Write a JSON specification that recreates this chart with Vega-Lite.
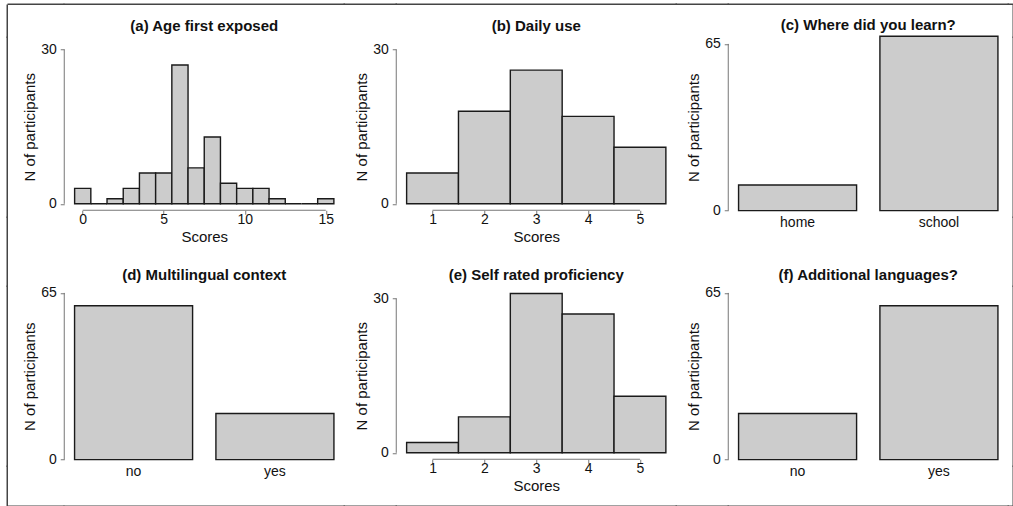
{
  "$schema": "https://vega.github.io/schema/vega-lite/v6.json",
  "padding": {"left": 6.25, "top": 3.25, "right": 0, "bottom": 0},
  "background": "white",
  "datasets": {
    "age": [
      {"bin_start": -0.5, "bin_end": 0.5, "n": 3},
      {"bin_start": 0.5, "bin_end": 1.5, "n": 0},
      {"bin_start": 1.5, "bin_end": 2.5, "n": 1},
      {"bin_start": 2.5, "bin_end": 3.5, "n": 3},
      {"bin_start": 3.5, "bin_end": 4.5, "n": 6},
      {"bin_start": 4.5, "bin_end": 5.5, "n": 6},
      {"bin_start": 5.5, "bin_end": 6.5, "n": 27},
      {"bin_start": 6.5, "bin_end": 7.5, "n": 7},
      {"bin_start": 7.5, "bin_end": 8.5, "n": 13},
      {"bin_start": 8.5, "bin_end": 9.5, "n": 4},
      {"bin_start": 9.5, "bin_end": 10.5, "n": 3},
      {"bin_start": 10.5, "bin_end": 11.5, "n": 3},
      {"bin_start": 11.5, "bin_end": 12.5, "n": 1},
      {"bin_start": 12.5, "bin_end": 13.5, "n": 0},
      {"bin_start": 13.5, "bin_end": 14.5, "n": 0},
      {"bin_start": 14.5, "bin_end": 15.5, "n": 1}
    ],
    "daily": [
      {"bin_start": 0.5, "bin_end": 1.5, "n": 6},
      {"bin_start": 1.5, "bin_end": 2.5, "n": 18},
      {"bin_start": 2.5, "bin_end": 3.5, "n": 26},
      {"bin_start": 3.5, "bin_end": 4.5, "n": 17},
      {"bin_start": 4.5, "bin_end": 5.5, "n": 11}
    ],
    "prof": [
      {"bin_start": 0.5, "bin_end": 1.5, "n": 2},
      {"bin_start": 1.5, "bin_end": 2.5, "n": 7},
      {"bin_start": 2.5, "bin_end": 3.5, "n": 31},
      {"bin_start": 3.5, "bin_end": 4.5, "n": 27},
      {"bin_start": 4.5, "bin_end": 5.5, "n": 11}
    ],
    "learn": [{"answer": "home", "n": 10}, {"answer": "school", "n": 68}],
    "multi": [{"answer": "no", "n": 60}, {"answer": "yes", "n": 18}],
    "addl": [{"answer": "no", "n": 18}, {"answer": "yes", "n": 60}],
    "one": [{"k": 1}],
    "none": []
  },
  "config": {
    "font": "Liberation Sans",
    "view": {"stroke": null},
    "title": {"fontSize": 15, "fontWeight": "bold", "color": "#111111", "offset": 3, "baseline": "alphabetic", "frame": "group", "anchor": "middle"},
    "axis": {"grid": false, "domain": false, "tickColor": "#777777", "tickSize": 4, "labelFontSize": 14, "labelColor": "#111111", "titleFontSize": 15, "titleFontWeight": "normal", "titleColor": "#111111", "labelFlush": false, "labelOverlap": false},
    "axisY": {"labelPadding": 4, "titlePadding": 3},
    "axisX": {"labelPadding": -2, "titlePadding": 3}
  },
  "columns": 9,
  "bounds": "flush",
  "align": "each",
  "spacing": 0,
  "concat": [
    {"width": 0.001, "height": 0.001, "data": {"name": "none"}, "mark": "point", "encoding": {}},
    {"width": 55.5, "height": 0.001, "view": {"stroke": "#444444", "strokeWidth": 1.5}, "data": {"name": "none"}, "mark": "point", "encoding": {}},
    {"width": 280, "height": 0.001, "view": {"stroke": "#444444", "strokeWidth": 1.5}, "data": {"name": "none"}, "mark": "point", "encoding": {}},
    {"width": 52, "height": 0.001, "view": {"stroke": "#444444", "strokeWidth": 1.5}, "data": {"name": "none"}, "mark": "point", "encoding": {}},
    {"width": 280, "height": 0.001, "view": {"stroke": "#444444", "strokeWidth": 1.5}, "data": {"name": "none"}, "mark": "point", "encoding": {}},
    {"width": 52, "height": 0.001, "view": {"stroke": "#444444", "strokeWidth": 1.5}, "data": {"name": "none"}, "mark": "point", "encoding": {}},
    {"width": 280, "height": 0.001, "view": {"stroke": "#444444", "strokeWidth": 1.5}, "data": {"name": "none"}, "mark": "point", "encoding": {}},
    {"width": 4.5, "height": 0.001, "view": {"stroke": "#444444", "strokeWidth": 1.5}, "data": {"name": "none"}, "mark": "point", "encoding": {}},
    {"width": 0.001, "height": 0.001, "data": {"name": "none"}, "mark": "point", "encoding": {}},

    {"width": 0.001, "height": 32, "view": {"stroke": "#444444", "strokeWidth": 1.5}, "data": {"name": "none"}, "mark": "point", "encoding": {}},
    {"width": 0.001, "height": 0.001, "data": {"name": "none"}, "mark": "point", "encoding": {}},
    {"width": 0.001, "height": 0.001, "data": {"name": "none"}, "mark": "point", "encoding": {}},
    {"width": 0.001, "height": 0.001, "data": {"name": "none"}, "mark": "point", "encoding": {}},
    {"width": 0.001, "height": 0.001, "data": {"name": "none"}, "mark": "point", "encoding": {}},
    {"width": 0.001, "height": 0.001, "data": {"name": "none"}, "mark": "point", "encoding": {}},
    {"width": 0.001, "height": 0.001, "data": {"name": "none"}, "mark": "point", "encoding": {}},
    {"width": 0.001, "height": 0.001, "data": {"name": "none"}, "mark": "point", "encoding": {}},
    {"width": 0.001, "height": 32, "view": {"stroke": "#444444", "strokeWidth": 1.5}, "data": {"name": "none"}, "mark": "point", "encoding": {}},

    {"width": 0.001, "height": 180, "view": {"stroke": "#444444", "strokeWidth": 1.5}, "data": {"name": "none"}, "mark": "point", "encoding": {}},
    {"width": 0.001, "height": 0.001, "data": {"name": "none"}, "mark": "point", "encoding": {}},
    {
      "width": 280, "height": 173,
      "title": {"text": "(a) Age first exposed"},
      "layer": [
        {"data": {"name": "age"},
         "mark": {"type": "rect", "fill": "#cccccc", "stroke": "#1a1a1a", "strokeWidth": 1.4},
         "encoding": {
           "x": {"field": "bin_start", "type": "quantitative", "scale": {"domain": [-1.14, 16.14], "nice": false, "zero": false}, "axis": {"values": [0, 5, 10, 15], "title": "Scores"}},
           "x2": {"field": "bin_end"},
           "y": {"field": "n", "type": "quantitative", "scale": {"domain": [-1.25, 32.4], "nice": false, "zero": false}, "axis": {"values": [0, 30], "title": "N of participants", "titleY": 89.5}},
           "y2": {"datum": 0}
         }},
        {"data": {"name": "one"}, "mark": {"type": "rule", "color": "#777777", "strokeWidth": 1},
         "encoding": {"x": {"datum": 0}, "x2": {"datum": 15}, "y": {"datum": -1.25}}},
        {"data": {"name": "one"}, "mark": {"type": "rule", "color": "#777777", "strokeWidth": 1},
         "encoding": {"x": {"datum": -1.14}, "y": {"datum": 0}, "y2": {"datum": 30}}}
      ]
    },
    {"width": 0.001, "height": 0.001, "data": {"name": "none"}, "mark": "point", "encoding": {}},
    {
      "width": 280, "height": 173,
      "title": {"text": "(b) Daily use"},
      "layer": [
        {"data": {"name": "daily"},
         "mark": {"type": "rect", "fill": "#cccccc", "stroke": "#1a1a1a", "strokeWidth": 1.4},
         "encoding": {
           "x": {"field": "bin_start", "type": "quantitative", "scale": {"domain": [0.3, 5.7], "nice": false, "zero": false}, "axis": {"values": [1, 2, 3, 4, 5], "title": "Scores"}},
           "x2": {"field": "bin_end"},
           "y": {"field": "n", "type": "quantitative", "scale": {"domain": [-1.25, 32.4], "nice": false, "zero": false}, "axis": {"values": [0, 30], "title": "N of participants", "titleY": 89.5}},
           "y2": {"datum": 0}
         }},
        {"data": {"name": "one"}, "mark": {"type": "rule", "color": "#777777", "strokeWidth": 1},
         "encoding": {"x": {"datum": 1}, "x2": {"datum": 5}, "y": {"datum": -1.25}}},
        {"data": {"name": "one"}, "mark": {"type": "rule", "color": "#777777", "strokeWidth": 1},
         "encoding": {"x": {"datum": 0.3}, "y": {"datum": 0}, "y2": {"datum": 30}}}
      ]
    },
    {"width": 0.001, "height": 0.001, "data": {"name": "none"}, "mark": "point", "encoding": {}},
    {
      "width": 280, "height": 180,
      "title": {"text": "(c) Where did you learn?"},
      "resolve": {"scale": {"x": "independent"}},
      "layer": [
        {"data": {"name": "learn"},
         "mark": {"type": "bar", "fill": "#cccccc", "stroke": "#1a1a1a", "strokeWidth": 1.4},
         "encoding": {
           "x": {"field": "answer", "type": "nominal", "sort": null, "scale": {"paddingInner": 0.165, "paddingOuter": 0.073}, "axis": {"ticks": false, "tickSize": 0, "labelAngle": 0, "title": null, "labelBaseline": "alphabetic", "labelPadding": 9.7}},
           "y": {"field": "n", "type": "quantitative", "scale": {"domain": [-2.6, 67.6], "nice": false, "zero": false}, "axis": {"values": [0, 65], "title": "N of participants"}},
           "y2": {"datum": 0}
         }},
        {"data": {"name": "one"}, "mark": {"type": "rule", "color": "#777777", "strokeWidth": 1},
         "encoding": {"x": {"datum": 0, "type": "quantitative", "scale": {"domain": [0, 1]}, "axis": null}, "y": {"datum": 0}, "y2": {"datum": 65}}}
      ]
    },
    {"width": 0.001, "height": 0.001, "data": {"name": "none"}, "mark": "point", "encoding": {}},
    {"width": 0.001, "height": 180, "view": {"stroke": "#444444", "strokeWidth": 1.5}, "data": {"name": "none"}, "mark": "point", "encoding": {}},

    {"width": 0.001, "height": 69, "view": {"stroke": "#444444", "strokeWidth": 1.5}, "data": {"name": "none"}, "mark": "point", "encoding": {}},
    {"width": 0.001, "height": 0.001, "data": {"name": "none"}, "mark": "point", "encoding": {}},
    {"width": 0.001, "height": 0.001, "data": {"name": "none"}, "mark": "point", "encoding": {}},
    {"width": 0.001, "height": 0.001, "data": {"name": "none"}, "mark": "point", "encoding": {}},
    {"width": 0.001, "height": 0.001, "data": {"name": "none"}, "mark": "point", "encoding": {}},
    {"width": 0.001, "height": 0.001, "data": {"name": "none"}, "mark": "point", "encoding": {}},
    {"width": 0.001, "height": 0.001, "data": {"name": "none"}, "mark": "point", "encoding": {}},
    {"width": 0.001, "height": 0.001, "data": {"name": "none"}, "mark": "point", "encoding": {}},
    {"width": 0.001, "height": 69, "view": {"stroke": "#444444", "strokeWidth": 1.5}, "data": {"name": "none"}, "mark": "point", "encoding": {}},

    {"width": 0.001, "height": 180, "view": {"stroke": "#444444", "strokeWidth": 1.5}, "data": {"name": "none"}, "mark": "point", "encoding": {}},
    {"width": 0.001, "height": 0.001, "data": {"name": "none"}, "mark": "point", "encoding": {}},
    {
      "width": 280, "height": 180,
      "title": {"text": "(d) Multilingual context"},
      "resolve": {"scale": {"x": "independent"}},
      "layer": [
        {"data": {"name": "multi"},
         "mark": {"type": "bar", "fill": "#cccccc", "stroke": "#1a1a1a", "strokeWidth": 1.4},
         "encoding": {
           "x": {"field": "answer", "type": "nominal", "sort": null, "scale": {"paddingInner": 0.165, "paddingOuter": 0.073}, "axis": {"ticks": false, "tickSize": 0, "labelAngle": 0, "title": null, "labelBaseline": "alphabetic", "labelPadding": 9.7}},
           "y": {"field": "n", "type": "quantitative", "scale": {"domain": [-2.6, 67.6], "nice": false, "zero": false}, "axis": {"values": [0, 65], "title": "N of participants"}},
           "y2": {"datum": 0}
         }},
        {"data": {"name": "one"}, "mark": {"type": "rule", "color": "#777777", "strokeWidth": 1},
         "encoding": {"x": {"datum": 0, "type": "quantitative", "scale": {"domain": [0, 1]}, "axis": null}, "y": {"datum": 0}, "y2": {"datum": 65}}}
      ]
    },
    {"width": 0.001, "height": 0.001, "data": {"name": "none"}, "mark": "point", "encoding": {}},
    {
      "width": 280, "height": 173,
      "title": {"text": "(e) Self rated proficiency"},
      "layer": [
        {"data": {"name": "prof"},
         "mark": {"type": "rect", "fill": "#cccccc", "stroke": "#1a1a1a", "strokeWidth": 1.4},
         "encoding": {
           "x": {"field": "bin_start", "type": "quantitative", "scale": {"domain": [0.3, 5.7], "nice": false, "zero": false}, "axis": {"values": [1, 2, 3, 4, 5], "title": "Scores"}},
           "x2": {"field": "bin_end"},
           "y": {"field": "n", "type": "quantitative", "scale": {"domain": [-1.25, 32.4], "nice": false, "zero": false}, "axis": {"values": [0, 30], "title": "N of participants", "titleY": 89.5}},
           "y2": {"datum": 0}
         }},
        {"data": {"name": "one"}, "mark": {"type": "rule", "color": "#777777", "strokeWidth": 1},
         "encoding": {"x": {"datum": 1}, "x2": {"datum": 5}, "y": {"datum": -1.25}}},
        {"data": {"name": "one"}, "mark": {"type": "rule", "color": "#777777", "strokeWidth": 1},
         "encoding": {"x": {"datum": 0.3}, "y": {"datum": 0}, "y2": {"datum": 30}}}
      ]
    },
    {"width": 0.001, "height": 0.001, "data": {"name": "none"}, "mark": "point", "encoding": {}},
    {
      "width": 280, "height": 180,
      "title": {"text": "(f) Additional languages?"},
      "resolve": {"scale": {"x": "independent"}},
      "layer": [
        {"data": {"name": "addl"},
         "mark": {"type": "bar", "fill": "#cccccc", "stroke": "#1a1a1a", "strokeWidth": 1.4},
         "encoding": {
           "x": {"field": "answer", "type": "nominal", "sort": null, "scale": {"paddingInner": 0.165, "paddingOuter": 0.073}, "axis": {"ticks": false, "tickSize": 0, "labelAngle": 0, "title": null, "labelBaseline": "alphabetic", "labelPadding": 9.7}},
           "y": {"field": "n", "type": "quantitative", "scale": {"domain": [-2.6, 67.6], "nice": false, "zero": false}, "axis": {"values": [0, 65], "title": "N of participants"}},
           "y2": {"datum": 0}
         }},
        {"data": {"name": "one"}, "mark": {"type": "rule", "color": "#777777", "strokeWidth": 1},
         "encoding": {"x": {"datum": 0, "type": "quantitative", "scale": {"domain": [0, 1]}, "axis": null}, "y": {"datum": 0}, "y2": {"datum": 65}}}
      ]
    },
    {"width": 0.001, "height": 0.001, "data": {"name": "none"}, "mark": "point", "encoding": {}},
    {"width": 0.001, "height": 180, "view": {"stroke": "#444444", "strokeWidth": 1.5}, "data": {"name": "none"}, "mark": "point", "encoding": {}},

    {"width": 0.001, "height": 39.5, "view": {"stroke": "#444444", "strokeWidth": 1.5}, "data": {"name": "none"}, "mark": "point", "encoding": {}},
    {"width": 0.001, "height": 0.001, "data": {"name": "none"}, "mark": "point", "encoding": {}},
    {"width": 0.001, "height": 0.001, "data": {"name": "none"}, "mark": "point", "encoding": {}},
    {"width": 0.001, "height": 0.001, "data": {"name": "none"}, "mark": "point", "encoding": {}},
    {"width": 0.001, "height": 0.001, "data": {"name": "none"}, "mark": "point", "encoding": {}},
    {"width": 0.001, "height": 0.001, "data": {"name": "none"}, "mark": "point", "encoding": {}},
    {"width": 0.001, "height": 0.001, "data": {"name": "none"}, "mark": "point", "encoding": {}},
    {"width": 0.001, "height": 0.001, "data": {"name": "none"}, "mark": "point", "encoding": {}},
    {"width": 0.001, "height": 39.5, "view": {"stroke": "#444444", "strokeWidth": 1.5}, "data": {"name": "none"}, "mark": "point", "encoding": {}},

    {"width": 0.001, "height": 0.001, "data": {"name": "none"}, "mark": "point", "encoding": {}},
    {"width": 55.5, "height": 0.001, "view": {"stroke": "#444444", "strokeWidth": 1.5}, "data": {"name": "none"}, "mark": "point", "encoding": {}},
    {"width": 280, "height": 0.001, "view": {"stroke": "#444444", "strokeWidth": 1.5}, "data": {"name": "none"}, "mark": "point", "encoding": {}},
    {"width": 52, "height": 0.001, "view": {"stroke": "#444444", "strokeWidth": 1.5}, "data": {"name": "none"}, "mark": "point", "encoding": {}},
    {"width": 280, "height": 0.001, "view": {"stroke": "#444444", "strokeWidth": 1.5}, "data": {"name": "none"}, "mark": "point", "encoding": {}},
    {"width": 52, "height": 0.001, "view": {"stroke": "#444444", "strokeWidth": 1.5}, "data": {"name": "none"}, "mark": "point", "encoding": {}},
    {"width": 280, "height": 0.001, "view": {"stroke": "#444444", "strokeWidth": 1.5}, "data": {"name": "none"}, "mark": "point", "encoding": {}},
    {"width": 4.5, "height": 0.001, "view": {"stroke": "#444444", "strokeWidth": 1.5}, "data": {"name": "none"}, "mark": "point", "encoding": {}},
    {"width": 0.001, "height": 0.001, "data": {"name": "none"}, "mark": "point", "encoding": {}}
  ]
}
